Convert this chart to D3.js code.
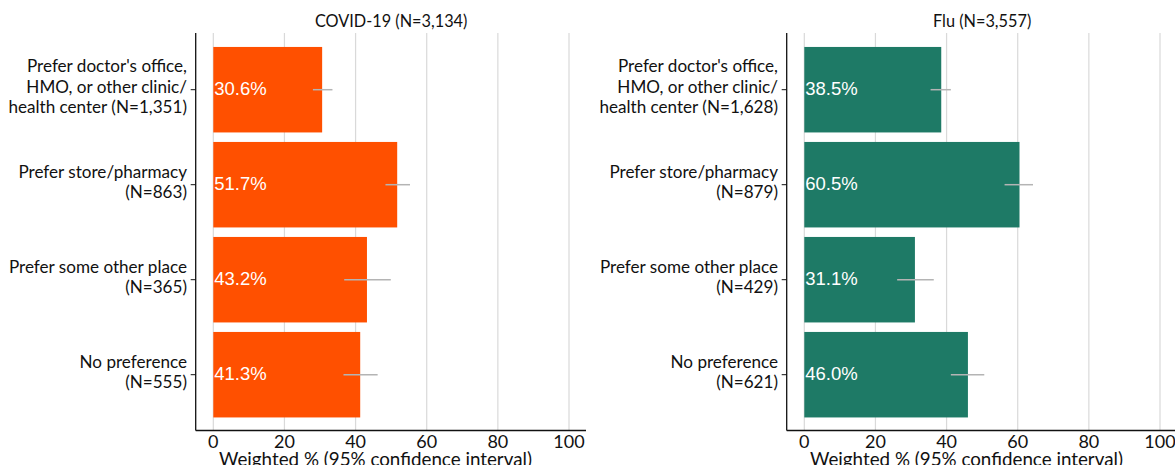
<!DOCTYPE html>
<html><head><meta charset="utf-8">
<script src="https://cdn.jsdelivr.net/npm/d3@7"></script>
<style>
body{margin:0;background:#fff;}
.lab{font-family:"Lato","Carlito",sans-serif;fill:#111;}
</style></head>
<body><svg id="c" width="1175" height="465"></svg>
<script>
const xTicks = [0, 20, 40, 60, 80, 100];
const covidTitle = "COVID-19 (N=3,134)";
const covidLabels = [
  ["Prefer doctor's office,", "HMO, or other clinic/", "health center (N=1,351)"],
  ["Prefer store/pharmacy", "(N=863)"],
  ["Prefer some other place", "(N=365)"],
  ["No preference", "(N=555)"]
];
const covidValues = [30.6, 51.7, 43.2, 41.3];
const covidLow = [28.0, 48.4, 36.8, 36.6];
const covidHigh = [33.5, 55.3, 49.9, 46.2];

const fluTitle = "Flu (N=3,557)";
const fluLabels = [
  ["Prefer doctor's office,", "HMO, or other clinic/", "health center (N=1,628)"],
  ["Prefer store/pharmacy", "(N=879)"],
  ["Prefer some other place", "(N=429)"],
  ["No preference", "(N=621)"]
];
const fluValues = [38.5, 60.5, 31.1, 46.0];
const fluLow = [35.5, 56.3, 26.1, 41.2];
const fluHigh = [41.2, 64.3, 36.4, 50.6];

const axisTitle = "Weighted % (95% confidence interval)";

const svg = d3.select("#c");

function panel(ox, title, labels, values, lo, hi, color) {
  const g = svg.append("g").attr("transform", `translate(${ox},0)`);
  const x = d3.scaleLinear().domain([0, 100]).range([213.3, 569]);
  const idx = d3.range(values.length);
  const y = d3.scaleBand().domain(idx).range([42.2, 422.2]).paddingInner(0.1).paddingOuter(0.05);
  const axLeft = 195.7, axBottom = 430.5, axTop = 33;

  g.selectAll("line.grid").data(xTicks).join("line")
    .attr("x1", d => x(d)).attr("x2", d => x(d))
    .attr("y1", axTop).attr("y2", axBottom)
    .attr("stroke", "#d9d9d9").attr("stroke-width", 1.2);

  g.selectAll("rect.bar").data(values).join("rect")
    .attr("x", x(0)).attr("y", (d, i) => y(i))
    .attr("width", d => x(d) - x(0)).attr("height", y.bandwidth())
    .attr("fill", color);

  g.selectAll("line.err").data(idx).join("line")
    .attr("x1", i => x(lo[i])).attr("x2", i => x(hi[i]))
    .attr("y1", i => y(i) + y.bandwidth() / 2).attr("y2", i => y(i) + y.bandwidth() / 2)
    .attr("stroke", "#b4b4b4").attr("stroke-width", 1.5);

  g.selectAll("text.val").data(values).join("text")
    .attr("x", x(0) + 1).attr("y", (d, i) => y(i) + y.bandwidth() / 2 - 1)
    .attr("dy", "0.36em")
    .attr("font-family", "Liberation Sans, Arial, sans-serif")
    .attr("font-size", 18.5).attr("fill", "#fff")
    .text(d => d.toFixed(1) + "%");

  g.append("line").attr("x1", axLeft).attr("x2", axLeft).attr("y1", axTop).attr("y2", axBottom)
    .attr("stroke", "#111").attr("stroke-width", 1.3);
  g.append("line").attr("x1", axLeft).attr("x2", 586).attr("y1", axBottom).attr("y2", axBottom)
    .attr("stroke", "#111").attr("stroke-width", 1.3);

  g.selectAll("line.yt").data(idx).join("line")
    .attr("x1", axLeft - 5).attr("x2", axLeft)
    .attr("y1", i => y(i) + y.bandwidth() / 2).attr("y2", i => y(i) + y.bandwidth() / 2)
    .attr("stroke", "#111");

  const lh = 20.5;
  idx.forEach(i => {
    const lines = labels[i];
    const cy = y(i) + y.bandwidth() / 2 - 3;
    const t = g.append("text").attr("class", "lab").attr("text-anchor", "end")
      .attr("font-size", 17.1);
    lines.forEach((s, k) => {
      t.append("tspan").attr("x", 187)
        .attr("y", cy + (k - (lines.length - 1) / 2) * lh)
        .attr("dy", "0.36em").text(s);
    });
  });

  g.selectAll("text.xt").data(xTicks).join("text").attr("class", "lab")
    .attr("x", d => x(d)).attr("y", 442).attr("dy", "0.36em")
    .attr("text-anchor", "middle").attr("font-size", 18).text(d => d);

  g.append("text").attr("class", "lab").attr("x", 375.5).attr("y", 466)
    .attr("text-anchor", "middle").attr("font-size", 18.8).text(axisTitle);

  g.append("text").attr("class", "lab").attr("x", (x(0) + x(100)) / 2).attr("y", 21.5).attr("dy", "0.36em")
    .attr("text-anchor", "middle").attr("font-size", 16.3).text(title);
}

panel(0, covidTitle, covidLabels, covidValues, covidLow, covidHigh, "#ff5000");
panel(591, fluTitle, fluLabels, fluValues, fluLow, fluHigh, "#1e7a66");
</script></body></html>
